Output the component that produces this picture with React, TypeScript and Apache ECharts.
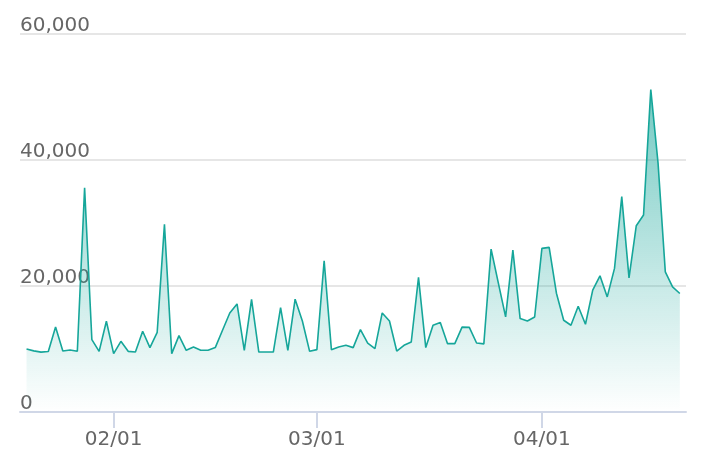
import React, { useEffect, useRef } from "react";
import * as echarts from "echarts";

const START_DATE = [2019, 0, 20]; // 2019-01-20, one value per day
const VALUES = [
  10000, 9700, 9500, 9600, 13500, 9680, 9840, 9630, 35600, 11490,
  9630, 14400, 9260, 11220, 9630, 9520, 12810, 10220, 12650, 29790,
  9260, 12130, 9790, 10310, 9790, 9790, 10220, 12970, 15720, 17160,
  9790, 17860, 9520, 9520, 9520, 16580, 9790, 17900, 14450, 9630,
  9900, 24000, 9900, 10310, 10580, 10220, 13080, 10950, 10060, 15720,
  14450, 9680, 10580, 11110, 21360, 10220, 13770, 14200, 10850, 10850,
  13480, 13430, 10950, 10820, 25860, 20450, 15090, 25700, 14830, 14450,
  15090, 25970, 26130, 18860, 14560, 13770, 16790, 13930, 19340, 21610,
  18270, 22790, 34190, 21290, 29570, 31270, 51170, 39500, 22250, 19860,
  18810,
];
const TICK_DATES = [
  [2019, 1, 1],
  [2019, 2, 1],
  [2019, 3, 1],
];
const Y_TICKS = [0, 20000, 40000, 60000];

const DAY = 86400000;
const startTs = new Date(START_DATE[0], START_DATE[1], START_DATE[2]).getTime();
const dayIndex = (d: number[]) =>
  Math.round((new Date(d[0], d[1], d[2]).getTime() - startTs) / DAY);
const pad = (n: number) => (n < 10 ? "0" + n : "" + n);
const labelFor = (idx: number) => {
  const d = new Date(START_DATE[0], START_DATE[1], START_DATE[2] + Math.round(idx));
  return pad(d.getMonth() + 1) + "/" + pad(d.getDate());
};

export default function App() {
  const ref = useRef<HTMLDivElement>(null);
  useEffect(() => {
    if (!ref.current) return;
    const chart = echarts.init(ref.current, null, { renderer: "svg" });
    const data = VALUES.map((v, i) => [i, v]);
    const tickIdx = TICK_DATES.map(dayIndex);
    chart.setOption({
      animation: false,
      grid: { left: 20, right: 22, top: 34, bottom: 54 },
      xAxis: {
        type: "value",
        min: -0.9,
        max: VALUES.length - 1 + 0.85,
        axisLine: { lineStyle: { color: "#d0d7e7", width: 2 } },
        axisTick: {
          show: true,
          length: 16,
          customValues: tickIdx,
          lineStyle: { color: "#d0d7e7", width: 2 },
        },
        axisLabel: {
          customValues: tickIdx,
          margin: 16,
          color: "#666",
          fontSize: 20,
          fontFamily: "DejaVu Sans",
          formatter: (v: number) => labelFor(v),
        },
        splitLine: { show: false },
      },
      yAxis: {
        type: "value",
        min: Y_TICKS[0],
        max: Y_TICKS[Y_TICKS.length - 1],
        interval: Y_TICKS[1] - Y_TICKS[0],
        axisLine: { show: false },
        axisTick: { show: false },
        axisLabel: {
          inside: true,
          margin: 0,
          verticalAlign: "bottom",
          color: "#666",
          fontSize: 20,
          fontFamily: "DejaVu Sans",
          formatter: (v: number) => v.toLocaleString("en-US"),
        },
        splitLine: { lineStyle: { color: "#e6e6e6", width: 2 } },
      },
      series: [
        {
          type: "line",
          data,
          symbol: "none",
          showSymbol: false,
          lineStyle: { color: "#16a69a", width: 1.6 },
          itemStyle: { color: "#16a69a" },
          areaStyle: {
            color: new echarts.graphic.LinearGradient(0, 0, 0, 1, [
              { offset: 0, color: "rgba(22,166,154,0.85)" },
              { offset: 1, color: "rgba(22,166,154,0)" },
            ]),
          },
        },
      ],
    });
    return () => chart.dispose();
  }, []);
  return (
    <div
      ref={ref}
      style={{ position: "fixed", left: 0, top: 0, width: 708, height: 466 }}
    />
  );
}
